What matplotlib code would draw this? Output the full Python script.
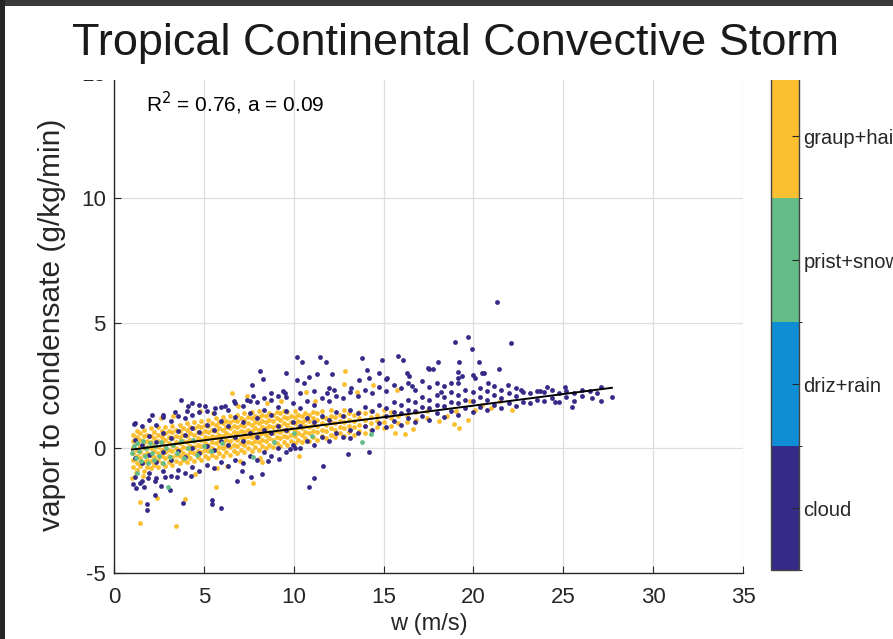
import matplotlib
matplotlib.use('Agg')
import matplotlib.pyplot as plt
import matplotlib.colors as mcolors
import matplotlib.cm as cm
import numpy as np

REG = ['Liberation Sans', 'DejaVu Sans']
plt.rcParams['font.family'] = REG
plt.rcParams['axes.unicode_minus'] = False

# ── data ──
categories = ['cloud', 'driz+rain', 'prist+snow', 'graup+hail']
cat_colors = ['#352a87', '#0f8ed6', '#64bd87', '#fbbf30']

# scattered points, "x,y"
graup_pts = """
1.45,-2.15 1.45,-2.98 1.0,-1.2 1.2,-1.0 1.6,-1.1 2.37,-1.99 3.45,-3.1 3.95,-2.03 2.6,1.2 3.3,1.3
4.52,-1.04 5.71,-0.8 5.67,-1.55 4.8,1.5 5.5,1.4 6.55,2.2 7.38,2.1 7.75,-1.37 6.3,-0.7 7.0,-0.5
8.23,-0.55 6.9,1.7 8.5,1.8 9.3,1.9 8.1,-0.4 10.68,2.24 10.3,-0.3 11.2,1.9 12.79,2.57 12.85,3.1
13.53,2.24 14.42,2.53 15.63,0.6 15.72,2.33 16.18,0.56 16.65,0.76 18.91,0.98 19.2,0.8 19.71,1.13
19.8,1.9 20.1,1.55 20.5,1.75 21.0,1.6 22.12,1.53 21.5,1.9 18.1,1.1 18.5,1.3 19.0,1.5
"""

# dense band, "x: y y y ..."
graup_cols = """
1.05: -0.75 -0.45 -0.2 0.05 0.3 0.55
1.25: -0.85 -0.6 -0.3 -0.05 0.2 0.45 0.7
1.45: -0.7 -0.4 -0.15 0.1 0.35 0.6
1.65: -0.9 -0.55 -0.25 0.0 0.25 0.5 0.75
1.85: -0.75 -0.45 -0.2 0.05 0.3 0.55
2.05: -0.8 -0.5 -0.25 0.0 0.25 0.5 0.8
2.25: -0.65 -0.35 -0.1 0.15 0.4 0.65
2.45: -0.75 -0.45 -0.2 0.05 0.3 0.55 0.85
2.65: -0.6 -0.3 -0.05 0.2 0.45 0.7
2.85: -0.7 -0.4 -0.15 0.1 0.35 0.6 0.85
3.05: -0.55 -0.3 -0.05 0.2 0.45 0.7
3.25: -0.65 -0.35 -0.1 0.15 0.4 0.65 0.9
3.45: -0.5 -0.25 0.0 0.25 0.5 0.75
3.65: -0.6 -0.3 -0.05 0.2 0.45 0.7 0.95
3.85: -0.45 -0.2 0.05 0.3 0.55 0.8
4.05: -0.55 -0.25 0.0 0.25 0.5 0.75 1.0
4.25: -0.4 -0.15 0.1 0.35 0.6 0.85
4.45: -0.5 -0.2 0.05 0.3 0.55 0.8 1.05
4.65: -0.35 -0.1 0.15 0.4 0.65 0.9
4.85: -0.45 -0.15 0.1 0.35 0.6 0.85 1.1
5.05: -0.3 -0.05 0.2 0.45 0.7 0.95
5.25: -0.4 -0.1 0.15 0.4 0.65 0.9 1.15
5.45: -0.25 0.0 0.25 0.5 0.75 1.0
5.65: -0.35 -0.05 0.2 0.45 0.7 0.95 1.2
5.85: -0.2 0.05 0.3 0.55 0.8 1.05
6.05: -0.3 0.0 0.25 0.5 0.75 1.0 1.25
6.25: -0.15 0.1 0.35 0.6 0.85 1.1
6.45: -0.25 0.05 0.3 0.55 0.8 1.05 1.3
6.65: -0.1 0.15 0.4 0.65 0.9 1.15
6.85: -0.2 0.1 0.35 0.6 0.85 1.1 1.35
7.05: -0.05 0.2 0.45 0.7 0.95 1.2
7.25: -0.15 0.15 0.4 0.65 0.9 1.15 1.4
7.45: 0.0 0.25 0.5 0.75 1.0 1.25
7.65: -0.1 0.2 0.45 0.7 0.95 1.2 1.45
7.85: 0.05 0.3 0.55 0.8 1.05 1.3
8.05: -0.05 0.25 0.5 0.75 1.0 1.25 1.5
8.25: 0.1 0.35 0.6 0.85 1.1 1.35
8.45: 0.0 0.3 0.55 0.8 1.05 1.3
8.65: 0.15 0.4 0.65 0.9 1.15 1.4
8.85: 0.05 0.35 0.6 0.85 1.1 1.35
9.05: 0.2 0.45 0.7 0.95 1.2 1.45
9.25: 0.1 0.4 0.65 0.9 1.15 1.4
9.45: 0.25 0.5 0.75 1.0 1.25 1.5
9.65: 0.15 0.45 0.7 0.95 1.2 1.45
9.85: 0.3 0.55 0.8 1.05 1.3
10.05: 0.2 0.5 0.75 1.0 1.25 1.5
10.25: 0.35 0.6 0.85 1.1 1.35
10.45: 0.25 0.55 0.8 1.05 1.3
10.65: 0.4 0.65 0.9 1.15 1.4
10.85: 0.3 0.6 0.85 1.1 1.35
11.05: 0.45 0.7 0.95 1.2 1.45
11.3: 0.35 0.65 0.9 1.15 1.4
11.55: 0.5 0.75 1.0 1.25 1.5
11.8: 0.4 0.7 0.95 1.2
12.05: 0.55 0.8 1.05 1.3 1.55
12.3: 0.45 0.75 1.0 1.25
12.55: 0.6 0.85 1.1 1.35
12.8: 0.5 0.8 1.05 1.3 1.55
13.05: 0.65 0.9 1.15 1.4
13.35: 0.55 0.85 1.1 1.35
13.65: 0.7 0.95 1.2 1.45
13.95: 0.6 0.9 1.15 1.4
14.3: 0.75 1.0 1.25 1.5
14.65: 0.85 1.1 1.35
15.0: 0.8 1.05 1.3 1.55
15.4: 0.9 1.2 1.45
15.8: 1.0 1.3
16.3: 1.05 1.35
16.8: 1.15 1.45
17.4: 1.2 1.5
"""

cloud_pts = """
1.04,-1.44 1.11,0.98 1.45,-1.37 1.67,-1.55 1.81,-2.24 1.82,-2.47 1.9,-1.2 2.1,1.33 2.28,-1.86 2.3,-1.3
2.7,1.35 2.84,-1.13 2.6,-1.5 1.2,-1.6 3.11,-1.65 3.4,1.45 3.52,-1.13 3.73,1.93 3.86,-2.18 4.05,1.5
4.12,1.68 4.3,-1.1 4.32,1.8 4.71,1.75 5.08,1.69 5.43,-2.07 5.47,-2.24 5.6,1.6 5.93,-2.37 6.15,1.7
6.65,1.9 6.82,-1.31 7.14,-0.92 7.4,1.95 7.6,-1.13 7.69,2.53 7.71,2.1 8.12,3.09 8.25,-1.04 8.3,2.77
8.56,-0.52 8.73,2.2 9.19,-0.42 9.4,2.3 9.51,2.2 9.55,3.03 9.79,-0.01 10.07,0.02 10.16,3.67 10.2,2.75
10.44,3.47 10.58,2.62 10.83,2.84 10.86,-1.56 11.14,-1.2 11.31,2.98 11.46,3.67 11.64,-0.71 11.77,3.44
11.86,2.23 12.1,2.96 12.25,2.33 13.0,-0.23 13.13,0.42 13.2,2.4 13.64,2.73 13.81,3.6 14.05,3.13
14.18,-0.14 14.2,2.82 14.76,3.0 14.92,3.53 15.13,2.79 15.17,2.8 15.81,3.69 16.09,3.53 16.28,3.02
16.41,2.9 16.56,2.49 17.48,3.2 17.54,3.17 17.72,3.17 18.04,3.45 18.19,2.27 18.75,2.63 18.97,4.27
19.12,2.82 19.15,3.04 19.2,3.44 19.34,2.9 19.71,4.46 19.9,3.97 19.98,2.93 20.07,2.82 20.3,3.44
20.45,3.0 20.6,3.0 20.82,2.63 21.32,5.86 21.41,3.16 21.9,2.53 22.08,4.2 22.67,2.33 23.69,2.29
24.1,2.46 25.08,2.46 26.51,2.31 26.88,2.22 27.07,1.91 27.12,2.44 27.68,2.07 25.46,1.64 24.53,1.86
"""

cloud_cols = """
1.15: -1.15 -0.4 0.35 1.0
1.55: -1.3 -0.6 0.15 0.9
1.95: -1.0 -0.25 0.5 1.15
2.35: -1.2 -0.55 0.25 0.95
2.75: -0.9 -0.15 0.6 1.25
3.15: -1.1 -0.45 0.4 1.1
3.55: -0.85 -0.1 0.7 1.3
3.95: -1.0 -0.35 0.55 1.2
4.35: -0.75 0.0 0.8 1.35
4.75: -0.9 -0.2 0.65 1.45
5.15: -0.65 0.1 0.95 1.5
5.55: -0.8 -0.05 0.75 1.4
5.95: -0.55 0.3 1.1 1.65
6.35: -0.7 0.15 0.9 1.55
6.75: -0.45 0.45 1.25 1.8
7.15: -0.6 0.3 1.05 1.7
7.55: -0.3 0.6 1.4 1.9
7.95: -0.45 0.45 1.2 1.85
8.35: -0.15 0.75 1.55 2.0
8.75: -0.3 0.6 1.35 1.95
9.15: 0.0 0.9 1.65 2.1
9.55: -0.15 0.75 1.5 2.05
9.95: 0.15 1.05 1.8
10.35: 0.0 0.9 1.6 2.2
10.75: 0.3 1.2 1.9
11.15: 0.15 1.05 1.75 2.3
11.55: 0.45 1.3 2.0
11.95: 0.3 1.15 1.9 2.4
12.35: 0.6 1.45 2.1
12.75: 0.45 1.3 2.0
13.15: 0.75 1.55 2.25
13.55: 0.6 1.4 2.1
13.95: 0.9 1.65 2.35
14.35: 0.75 1.5 2.2
14.75: 1.0 1.75 2.45
15.15: 0.85 1.3 1.6 2.3
15.55: 1.1 1.45 1.85 2.55
15.95: 0.95 1.4 1.75 2.4
16.35: 1.2 1.55 1.95 2.6
16.75: 1.05 1.5 1.85 2.35
17.15: 1.3 1.65 2.05 2.7
17.55: 1.15 1.6 1.95 2.45
17.95: 1.4 1.75 2.15 2.6
18.35: 1.25 1.7 2.05 2.5
18.75: 1.5 1.85 2.25
19.15: 1.35 1.8 2.15 2.6
19.55: 1.6 1.95 2.35
19.95: 1.45 1.9 2.25
20.35: 1.65 2.05 2.4
20.75: 1.55 1.95 2.3
21.15: 1.75 2.15 2.5
21.55: 1.6 2.0 2.35
21.95: 1.8 2.2
22.35: 1.7 2.1 2.4
22.75: 1.85 2.25
23.15: 1.8 2.2
23.55: 1.95 2.3
23.95: 1.9 2.25
24.35: 2.0 2.35
24.75: 1.85 2.2
25.15: 2.05 2.3
25.6: 1.9 2.2
26.05: 2.1 2.35
26.6: 2.0
"""

snow_pts = """
1.0,-0.2 1.1,0.1 1.2,-0.4 1.3,-1.0 1.3,0.2 1.4,-0.1 1.5,-0.5 1.6,0.3 1.7,-0.3 1.8,0.0 1.9,-0.6 2.0,0.2
2.1,-0.2 2.2,-0.45 2.3,0.1 2.5,-0.3 2.6,0.25 2.7,-0.6 2.9,0.0 2.98,-1.53 3.1,-0.35 3.3,0.15 3.5,-0.2 3.7,0.3
3.9,-0.4 4.1,0.0 4.4,0.35 4.6,-0.25 5.0,0.1 5.4,-0.1 6.0,0.2 7.71,-0.36 8.9,0.25 10.0,0.6 13.81,0.25
14.27,0.56 11.0,0.5
"""

fit_x = [1.0, 27.7]
fit_y = [-0.05, 2.42]
r2_text = 'R$^2$ = 0.76, a = 0.09'


def parse_pts(s):
    return np.array([p.split(',') for p in s.split()], dtype=float)


def parse_cols(s):
    pts = []
    for line in s.strip().splitlines():
        x, ys = line.split(':')
        for y in ys.split():
            pts.append((float(x), float(y)))
    return np.array(pts)


graup = np.vstack([parse_cols(graup_cols), parse_pts(graup_pts)])
cloud = np.vstack([parse_cols(cloud_cols), parse_pts(cloud_pts)])
snow = parse_pts(snow_pts)

fig = plt.figure(figsize=(8.93, 6.39), dpi=100, facecolor='white')
ax = fig.add_axes([0.1277, 0.1028, 0.7044, 0.7825])

ax.grid(True, color='#dedede', linewidth=0.9)
ax.set_axisbelow(True)
ms = 12
ax.scatter(graup[:, 0], graup[:, 1], s=ms, color=cat_colors[3], linewidths=0, zorder=2)
ax.scatter(cloud[:, 0], cloud[:, 1], s=ms, color=cat_colors[0], linewidths=0, zorder=3)
ax.scatter(snow[:, 0], snow[:, 1], s=ms, color=cat_colors[2], linewidths=0, zorder=4)
ax.plot(fit_x, fit_y, color='black', linewidth=1.4, zorder=5)

ax.set_xlim(0, 35)
ax.set_ylim(-5, 15)
ax.set_xticks(range(0, 36, 5))
ax.set_yticks([-5, 0, 5, 10, 15])
ax.tick_params(direction='in', length=5, width=0.8, colors='#262626', labelsize=16)
ax.tick_params(axis='x', pad=10)
ax.tick_params(axis='y', pad=6)
for s in ['top', 'right']:
    ax.spines[s].set_visible(False)
for s in ['left', 'bottom']:
    ax.spines[s].set_color('#262626')
    ax.spines[s].set_linewidth(1.0)

ax.set_xlabel('w (m/s)', fontsize=17, color='#262626')
ax.xaxis.set_label_coords(0.5, -0.079)
ax.set_ylabel('vapor to condensate (g/kg/min)', fontsize=21.5, color='#262626')
ax.yaxis.set_label_coords(-0.0763, 0.497)
ax.text(1.8, 13.8, r2_text, fontsize=15, color='black', va='center')

# colorbar of categories
cax = fig.add_axes([0.8634, 0.108, 0.0314, 0.776])
cmap = mcolors.ListedColormap(cat_colors)
norm = mcolors.BoundaryNorm([0, 1, 2, 3, 4], 4)
cb = fig.colorbar(cm.ScalarMappable(norm=norm, cmap=cmap), cax=cax, ticks=[0.5, 1.5, 2.5, 3.5])
cb.ax.set_yticklabels(categories)
cb.ax.tick_params(direction='in', length=5, width=0.8, colors='#262626', labelsize=14.5, pad=3)
cb.outline.set_edgecolor('#444444')
cb.outline.set_linewidth(1.0)

# slide title area (covers the top of the axes) and the dark frame
fig.patches.append(plt.Rectangle((0, 559 / 639), 1, 74 / 639, transform=fig.transFigure,
                                 facecolor='white', edgecolor='none', zorder=10))
fig.patches.append(plt.Rectangle((0, 633 / 639), 1, 6 / 639, transform=fig.transFigure,
                                 facecolor='#3a3a3a', edgecolor='none', zorder=11))
fig.patches.append(plt.Rectangle((0, 0), 5 / 893, 1, transform=fig.transFigure,
                                 facecolor='#262626', edgecolor='none', zorder=11))
fig.text(455 / 893, 1 - 43 / 639, 'Tropical Continental Convective Storm', fontsize=32.5,
         color='#1a1a1a', ha='center', va='center', zorder=12)

plt.savefig('out.png', dpi=100, facecolor='white')
print("Saved: out.png")
